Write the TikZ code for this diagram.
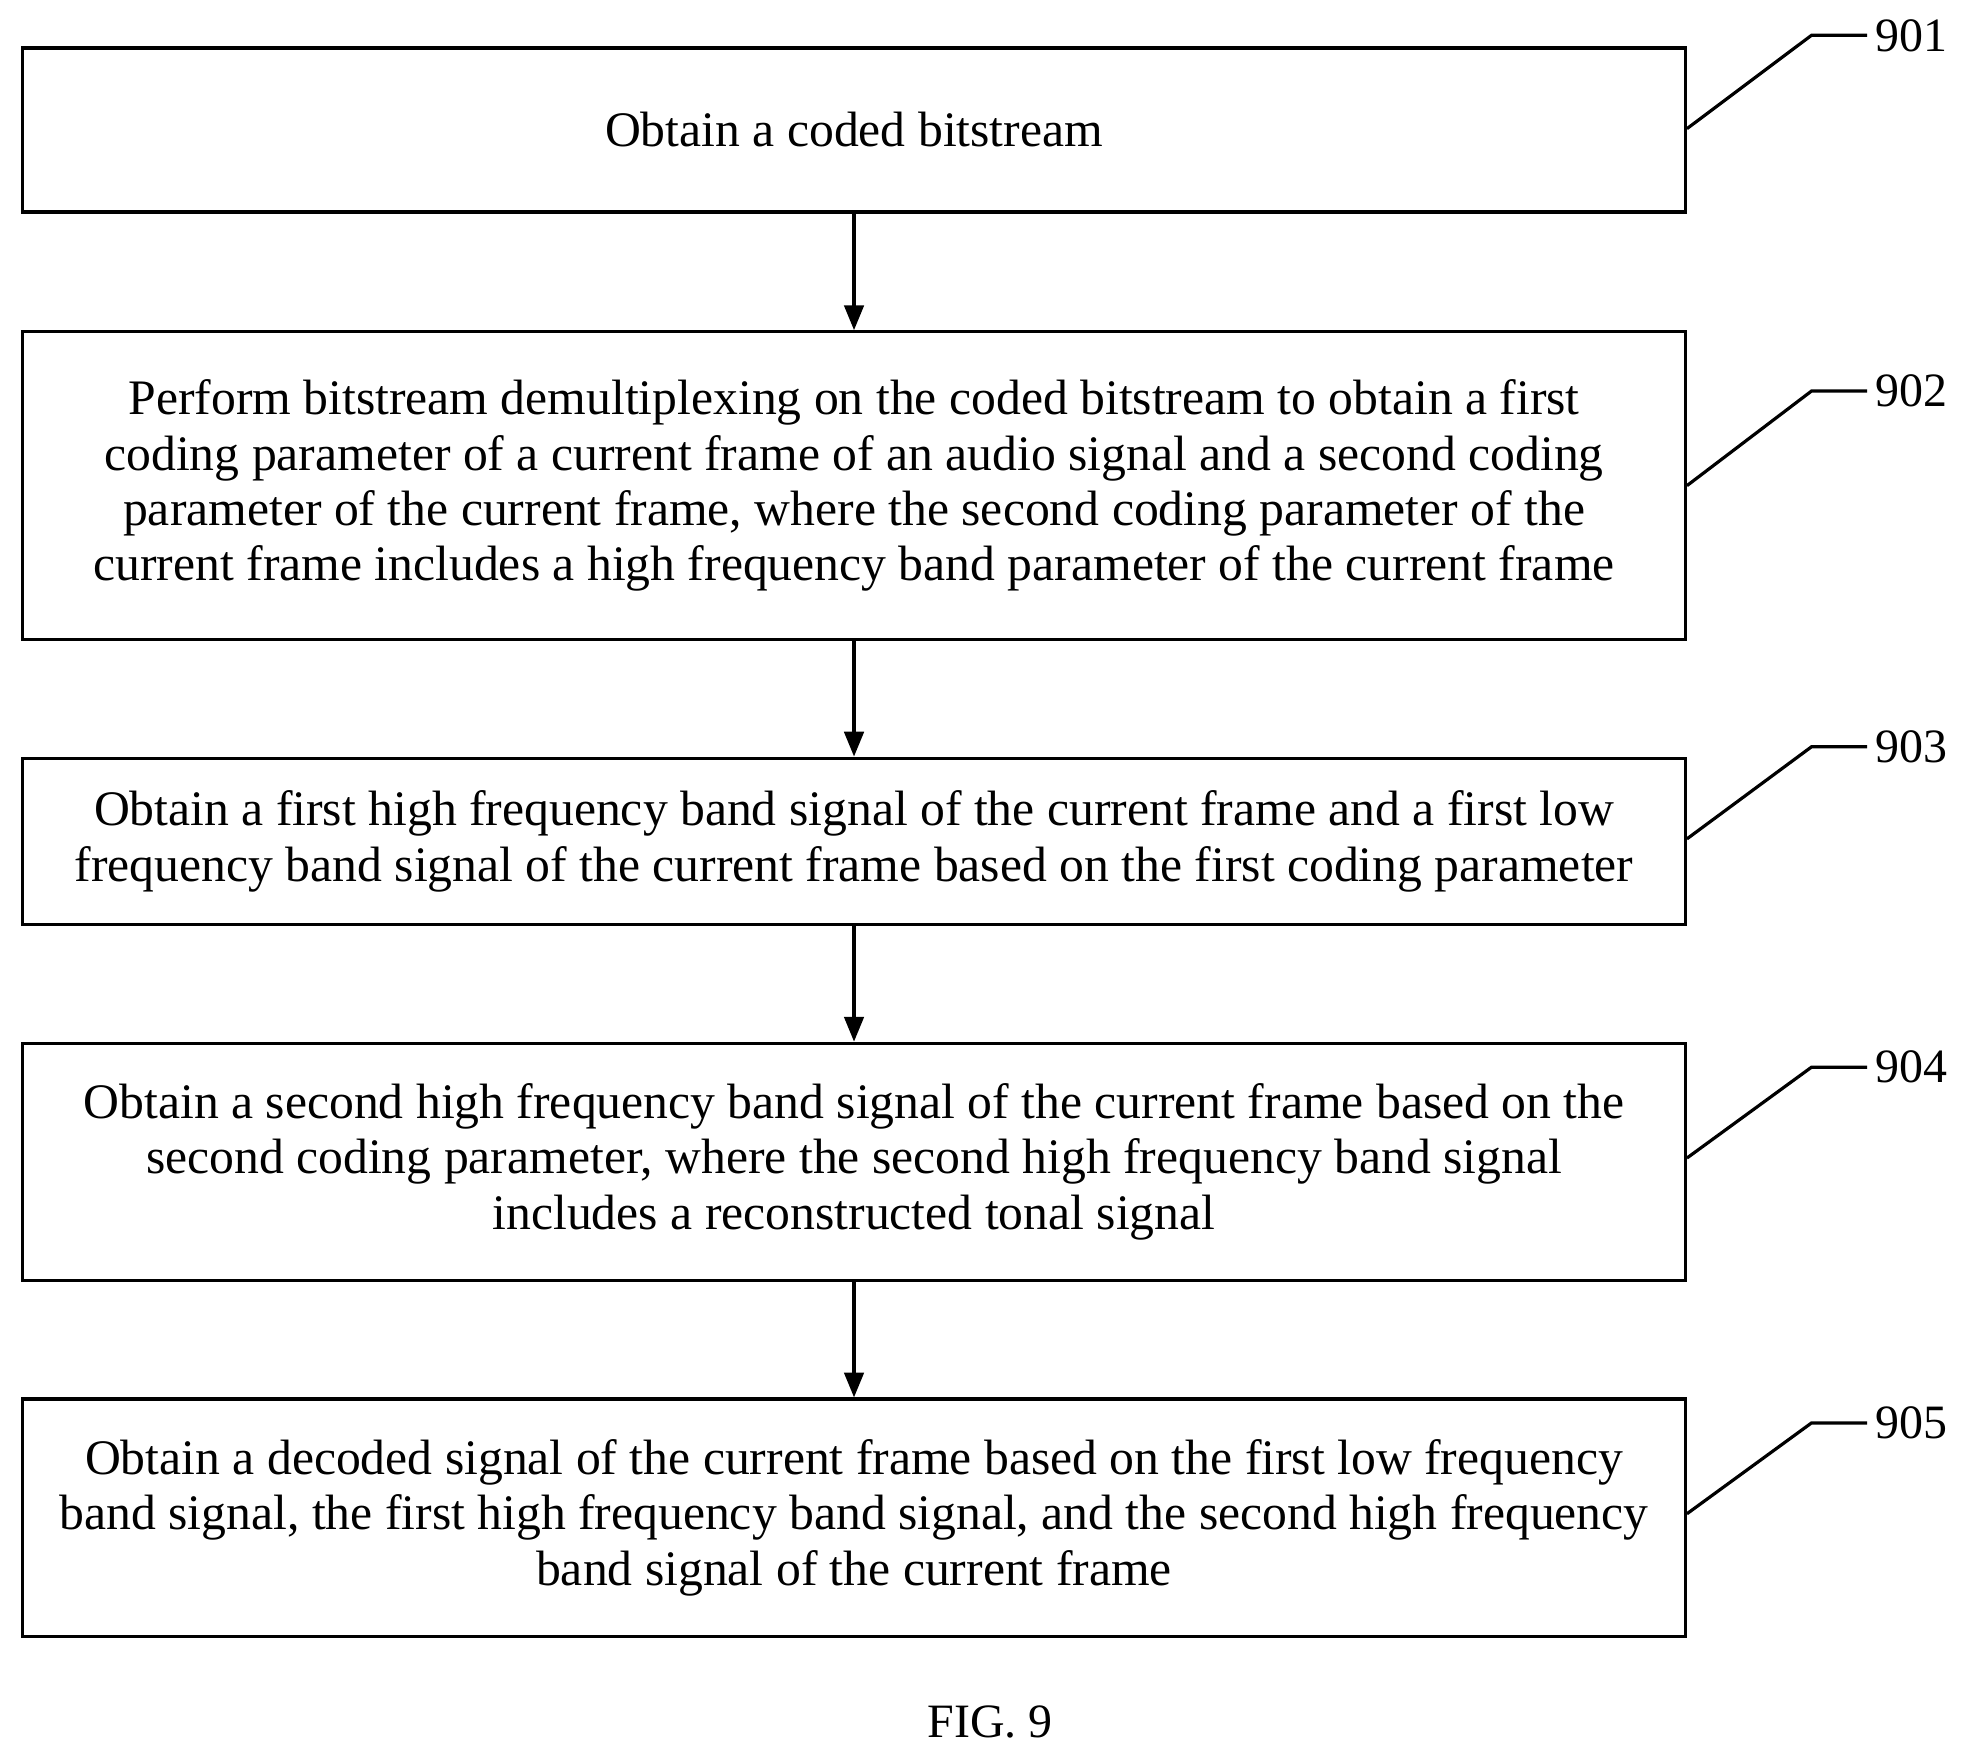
\documentclass[tikz,border=0pt]{standalone}
\usepackage{fontspec}
\setmainfont{Liberation Serif}
\usetikzlibrary{arrows.meta}
\begin{document}
\begin{tikzpicture}[x=0.025cm,y=-0.025cm,
  box/.style={draw,line width=1.8pt,minimum width=1318*0.025cm,align=center,font=\fontsize{28}{31.2}\selectfont,inner sep=0pt},
  arr/.style={line width=1.8pt,-{Triangle[length=14pt,width=11pt]}},
  lead/.style={line width=1.8pt},
  lbl/.style={font=\fontsize{27}{30}\selectfont,anchor=west}]
\useasboundingbox (0,0) rectangle (1568,1398);
\node[box,minimum height=130*0.025cm] (b1) at (677,103) {Obtain a coded bitstream};
\node[box,minimum height=244*0.025cm] (b2) at (677,385) {Perform bitstream demultiplexing on the coded bitstream to obtain a first\\coding parameter of a current frame of an audio signal and a second coding\\parameter of the current frame, where the second coding parameter of the\\current frame includes a high frequency band parameter of the current frame};
\node[box,minimum height=132*0.025cm] (b3) at (677,667) {Obtain a first high frequency band signal of the current frame and a first low\\frequency band signal of the current frame based on the first coding parameter};
\node[box,minimum height=188*0.025cm] (b4) at (677,921) {Obtain a second high frequency band signal of the current frame based on the\\second coding parameter, where the second high frequency band signal\\includes a reconstructed tonal signal};
\node[box,minimum height=188*0.025cm] (b5) at (677,1203) {Obtain a decoded signal of the current frame based on the first low frequency\\band signal, the first high frequency band signal, and the second high frequency\\band signal of the current frame};
\draw[arr] (b1) -- (b2);
\draw[arr] (b2) -- (b3);
\draw[arr] (b3) -- (b4);
\draw[arr] (b4) -- (b5);
\foreach \b/\y/\t/\n in {b1/102/28/901,b2/385/310/902,b3/665/592/903,b4/918/846/904,b5/1200/1128/905}{
  \coordinate (e\n) at (1480,\t);
  \draw[lead] (\b.east |- 0,\y) -- (1436,\t) -- (e\n);
  \node[lbl] (l\n) at (1482,\t) {\n};
}
\node[font=\fontsize{27}{30}\selectfont] (fig) at (785,1365) {FIG. 9};
\end{tikzpicture}
\end{document}
